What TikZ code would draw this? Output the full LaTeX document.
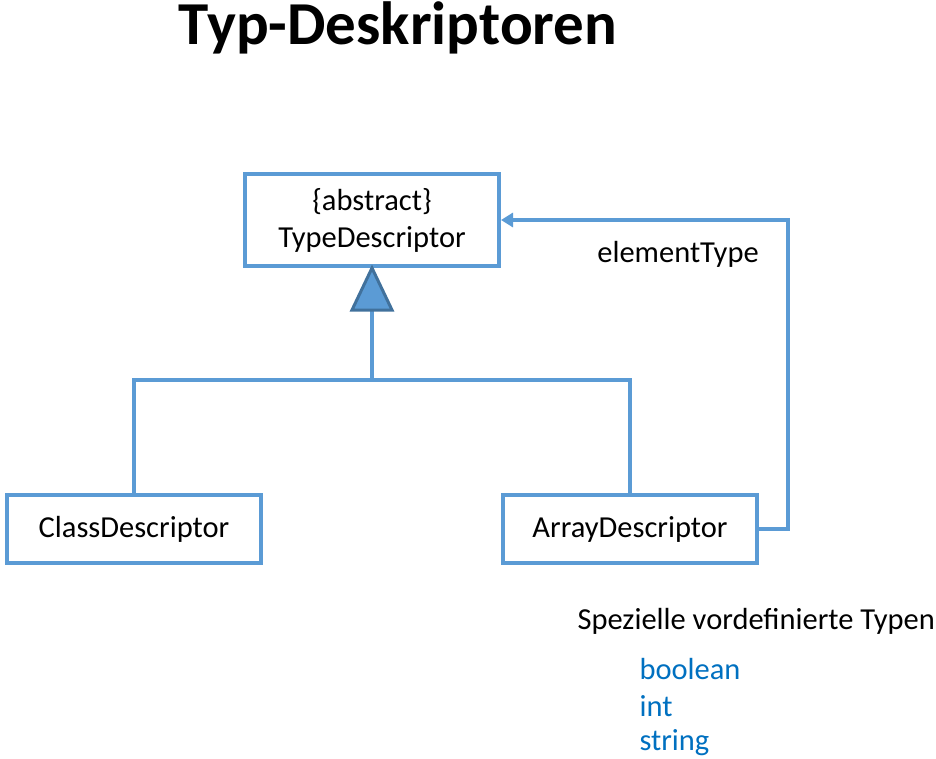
\documentclass[tikz,border=0pt]{standalone}
\usepackage{fontspec}
\setmainfont{Carlito}
\usetikzlibrary{arrows.meta}

\definecolor{umlblue}{HTML}{5B9BD5}
\definecolor{umldark}{HTML}{41719C}
\definecolor{typeblue}{HTML}{0070C0}

\begin{document}
\begin{tikzpicture}[
    x = 1pt, y = -1pt,
    line join=miter,
    classbox/.style = {draw=umlblue, line width=4pt, fill=white, minimum width=254pt, inner sep=0pt, font=\fontsize{30.5}{37}\selectfont, align=center},
    umlline/.style = {draw=umlblue, line width=4pt},
    plaintext/.style = {font=\fontsize{30.5}{37}\selectfont}
]

\useasboundingbox (0,0) rectangle (936,759);

\node[font=\fontsize{61}{64}\selectfont\bfseries] (title) at (398,28) {Typ-Deskriptoren};

\node[classbox, minimum height=92pt] (td) at (372,220) {\{abstract\}\\TypeDescriptor};
\node[classbox, minimum height=68pt] (cd) at (134,529) {ClassDescriptor};
\node[classbox, minimum height=68pt] (ad) at (630,529) {ArrayDescriptor};

% inheritance
\coordinate (tip) at (td.south);
\coordinate (base) at ([yshift=-42pt]td.south);
\coordinate (join) at (372,380);

\draw[umlline] (cd.north) |- (join) -| (ad.north);
\draw[umlline] (join) -- (base);
\draw[line width=3pt, draw=umldark, fill=umlblue] (tip) -- ++(20,42) -- ++(-40,0) -- cycle;

% elementType
\coordinate (bend1) at (788,529);
\coordinate (bend2) at (788,220);
\draw[umlline, -{Triangle[length=12pt,width=14pt]}] (ad.east) -- (bend1) -- (bend2) -- (td.east);
\node[plaintext] (et) at (678,254) {elementType};

% vordefinierte Typen
\node[plaintext, anchor=west] (spez) at (574,621) {Spezielle vordefinierte Typen};
\node[plaintext, anchor=west, text=typeblue] (tb) at (636,669) {boolean};
\node[plaintext, anchor=west, text=typeblue] (ti) at (636,706) {int};
\node[plaintext, anchor=west, text=typeblue] (ts) at (636,743) {string};

\end{tikzpicture}
\end{document}
